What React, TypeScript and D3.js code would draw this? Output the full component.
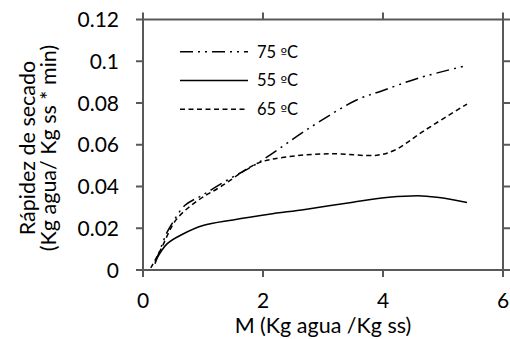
import React, { useEffect, useRef } from 'react';
import * as d3 from 'd3';

// tick values
const xTicks = [0, 2, 4, 6];
const yTicks = [0, 0.02, 0.04, 0.06, 0.08, 0.1, 0.12];

// 75 ºC
const m75 = [0.2, 0.4, 0.5, 0.7, 1.0, 1.4, 1.9, 2.8, 3.55, 4.0, 4.6, 5.4];
const r75 = [0.003, 0.018, 0.023, 0.031, 0.036, 0.043, 0.051, 0.0685, 0.0813, 0.086, 0.092, 0.098];

// 55 ºC
const m55 = [0.2, 0.4, 0.65, 1.0, 1.5, 2.1, 2.7, 3.5, 4.1, 4.65, 5.0, 5.4];
const r55 = [0.004, 0.0125, 0.017, 0.0213, 0.024, 0.0267, 0.029, 0.0325, 0.0348, 0.0355, 0.0345, 0.0323];

// 65 ºC
const m65 = [0.13, 0.3, 0.55, 0.9, 1.3, 1.9, 2.35, 3.1, 3.9, 4.2, 4.7, 5.4];
const r65 = [0.001, 0.01, 0.024, 0.033, 0.04, 0.051, 0.054, 0.0557, 0.055, 0.0575, 0.067, 0.0795];

const legendTemps = ['75', '55', '65'];
const dashes = ['13,5,2,5,2,5', null, '5,3.5'];

export default function App() {
    const svgRef = useRef<SVGSVGElement>(null);

    useEffect(() => {
        const width = 510;
        const height = 339;
        const font = 'Lato, "Noto Sans", sans-serif';
        const axisColor = '#595959';
        const tickLen = 7;

        const x = d3.scaleLinear().domain([0, 6]).range([143, 503]);
        const y = d3.scaleLinear().domain([0, 0.12]).range([270, 19.5]);

        const svg = d3.select(svgRef.current)
            .attr('width', width)
            .attr('height', height);

        svg.selectAll('*').remove();

        svg.append('rect')
            .attr('width', width)
            .attr('height', height)
            .attr('fill', '#fff');

        const series = [
            m75.map((m, i) => [m, r75[i]]),
            m55.map((m, i) => [m, r55[i]]),
            m65.map((m, i) => [m, r65[i]]),
        ] as [number, number][][];

        const line = d3.line<[number, number]>()
            .x(d => x(d[0]))
            .y(d => y(d[1]))
            .curve(d3.curveCatmullRom.alpha(0.5));

        series.forEach((s, i) => {
            const p = svg.append('path')
                .datum(s)
                .attr('fill', 'none')
                .attr('stroke', '#000')
                .attr('stroke-width', 1.5)
                .attr('d', line);
            if (dashes[i]) p.attr('stroke-dasharray', dashes[i]);
        });

        // frame with outward ticks on every side
        const x0 = x(0), x1 = x(6), y0 = y(0), y1 = y(0.12);
        const frame = svg.append('g')
            .attr('stroke', axisColor)
            .attr('stroke-width', 2)
            .attr('fill', 'none');
        frame.append('rect')
            .attr('x', x0).attr('y', y1)
            .attr('width', x1 - x0).attr('height', y0 - y1);

        yTicks.forEach(t => {
            frame.append('line').attr('x1', x0 - tickLen).attr('x2', x0).attr('y1', y(t)).attr('y2', y(t));
            frame.append('line').attr('x1', x1).attr('x2', x1 + tickLen).attr('y1', y(t)).attr('y2', y(t));
        });
        xTicks.forEach(t => {
            frame.append('line').attr('x1', x(t)).attr('x2', x(t)).attr('y1', y0).attr('y2', y0 + tickLen);
            frame.append('line').attr('x1', x(t)).attr('x2', x(t)).attr('y1', y1 - tickLen).attr('y2', y1);
        });

        // tick labels
        svg.append('g')
            .selectAll('text')
            .data(yTicks)
            .enter()
            .append('text')
            .attr('x', 119)
            .attr('y', d => y(d))
            .attr('dy', '0.36em')
            .attr('text-anchor', 'end')
            .attr('font-family', font)
            .attr('font-size', 21)
            .attr('fill', '#000')
            .text(d => String(d));

        svg.append('g')
            .selectAll('text')
            .data(xTicks)
            .enter()
            .append('text')
            .attr('x', d => x(d))
            .attr('y', 308)
            .attr('text-anchor', 'middle')
            .attr('font-family', font)
            .attr('font-size', 21)
            .attr('fill', '#000')
            .text(d => String(d));

        // axis titles
        svg.append('text')
            .attr('x', (x0 + x1) / 2)
            .attr('y', 333)
            .attr('text-anchor', 'middle')
            .attr('font-family', font)
            .attr('font-size', 21.5)
            .attr('fill', '#000')
            .text('M (Kg agua /Kg ss)');

        const yTitle = svg.append('text')
            .attr('transform', 'translate(0,148) rotate(-90)')
            .attr('text-anchor', 'middle')
            .attr('font-family', font)
            .attr('font-size', 21.5)
            .attr('fill', '#000');
        yTitle.append('tspan').attr('x', 0).attr('y', 35).text('Rápidez de secado');
        yTitle.append('tspan').attr('x', 0).attr('y', 56).text('(Kg agua/ Kg ss * min)');

        // legend
        const legend = svg.append('g');
        legendTemps.forEach((t, i) => {
            const ly = 51.7 + i * 28.8;
            const l = legend.append('line')
                .attr('x1', 180).attr('x2', 248)
                .attr('y1', ly).attr('y2', ly)
                .attr('stroke', '#000')
                .attr('stroke-width', 1.5);
            if (dashes[i]) l.attr('stroke-dasharray', dashes[i]);
            const txt = legend.append('text')
                .attr('x', 257)
                .attr('y', ly)
                .attr('dy', '0.36em')
                .attr('font-family', font)
                .attr('font-size', 16.5)
                .attr('fill', '#000');
            txt.append('tspan').text(t + ' ');
            txt.append('tspan').attr('font-family', '"DejaVu Sans", sans-serif').attr('font-size', 14).text('º');
            txt.append('tspan').text('C');
        });
    }, []);

    return <svg ref={svgRef} style={{ position: 'absolute', left: 0, top: 0, display: 'block' }}></svg>;
}
